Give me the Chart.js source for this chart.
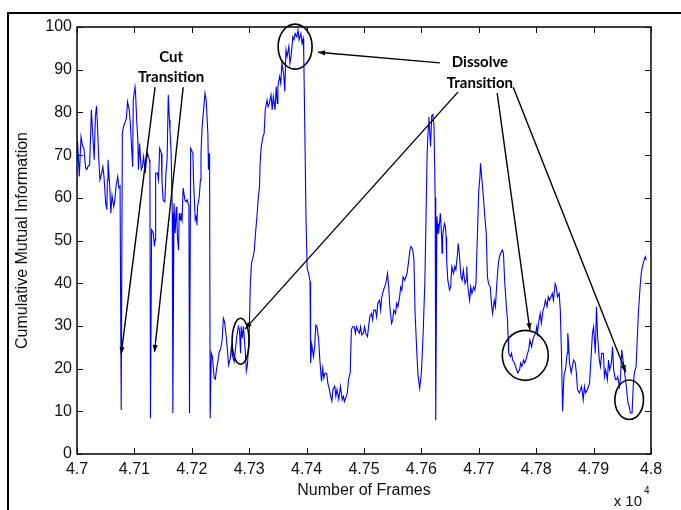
<!DOCTYPE html>
<html>
<head>
<meta charset="utf-8">
<script src="https://cdn.jsdelivr.net/npm/chart.js@4.4.1/dist/chart.umd.min.js"></script>
<style>
  html, body { margin: 0; padding: 0; background: #fff; }
  canvas { display: block; }
</style>
</head>
<body>
<canvas id="cmiChart" width="681" height="510"></canvas>
<script>
// Frame numbers (x) and cumulative mutual information (y)
const frames = [
  47000, 47001, 47004, 47007, 47010, 47012, 47015, 47017, 47019, 47022, 47024, 47025, 47027, 47030, 47032, 47034,
  47036, 47038, 47040, 47043, 47045, 47047, 47050, 47052, 47053, 47054, 47057, 47059, 47061, 47064, 47066, 47068,
  47071, 47073, 47075, 47077, 47079, 47081, 47084, 47086, 47088, 47091, 47093, 47095, 47097, 47098, 47101, 47102,
  47104, 47106, 47107, 47109, 47112, 47114, 47116, 47119, 47121, 47123, 47126, 47127, 47128, 47130, 47133, 47135,
  47136, 47137, 47140, 47142, 47144, 47147, 47148, 47150, 47153, 47155, 47157, 47159, 47161, 47162, 47164, 47166,
  47167, 47169, 47171, 47173, 47174, 47175, 47177, 47178, 47180, 47181, 47183, 47185, 47188, 47190, 47192, 47195,
  47196, 47198, 47202, 47203, 47206, 47208, 47209, 47210, 47213, 47215, 47216, 47218, 47221, 47223, 47225, 47228,
  47229, 47230, 47231, 47232, 47234, 47236, 47239, 47241, 47243, 47246, 47248, 47250, 47253, 47255, 47257, 47260,
  47262, 47264, 47267, 47269, 47271, 47274, 47276, 47278, 47281, 47283, 47285, 47286, 47288, 47290, 47293, 47295,
  47297, 47300, 47302, 47304, 47307, 47309, 47311, 47313, 47316, 47318, 47319, 47321, 47324, 47326, 47328, 47331,
  47333, 47335, 47338, 47340, 47342, 47345, 47347, 47349, 47350, 47353, 47355, 47357, 47360, 47362, 47364, 47366,
  47369, 47371, 47373, 47376, 47378, 47380, 47383, 47385, 47387, 47390, 47392, 47394, 47395, 47397, 47399, 47401,
  47404, 47406, 47407, 47409, 47412, 47414, 47416, 47418, 47421, 47423, 47426, 47428, 47430, 47432, 47435, 47437,
  47439, 47442, 47444, 47446, 47449, 47451, 47453, 47456, 47459, 47462, 47464, 47466, 47469, 47471, 47473, 47476,
  47478, 47480, 47483, 47485, 47487, 47489, 47492, 47494, 47496, 47499, 47501, 47503, 47506, 47508, 47510, 47513,
  47515, 47517, 47520, 47522, 47524, 47527, 47529, 47531, 47534, 47536, 47538, 47541, 47543, 47545, 47548, 47550,
  47552, 47555, 47557, 47559, 47562, 47564, 47566, 47568, 47571, 47573, 47575, 47578, 47580, 47582, 47585, 47587,
  47589, 47592, 47594, 47597, 47600, 47603, 47606, 47608, 47610, 47612, 47613, 47616, 47618, 47620, 47622, 47624,
  47625, 47627, 47629, 47630, 47631, 47633, 47635, 47636, 47637, 47640, 47642, 47643, 47644, 47646, 47649, 47651,
  47653, 47656, 47658, 47660, 47663, 47664, 47666, 47669, 47671, 47673, 47676, 47678, 47679, 47681, 47684, 47686,
  47688, 47691, 47693, 47695, 47698, 47700, 47702, 47703, 47706, 47708, 47710, 47713, 47715, 47717, 47720, 47722,
  47724, 47727, 47729, 47731, 47734, 47736, 47738, 47741, 47743, 47745, 47748, 47750, 47751, 47752, 47755, 47757,
  47759, 47762, 47764, 47766, 47768, 47771, 47773, 47775, 47778, 47780, 47782, 47785, 47787, 47789, 47792, 47794,
  47796, 47799, 47801, 47802, 47805, 47807, 47809, 47812, 47814, 47816, 47819, 47821, 47823, 47826, 47828, 47830,
  47833, 47835, 47837, 47840, 47842, 47844, 47846, 47848, 47849, 47851, 47854, 47855, 47856, 47858, 47861, 47863,
  47865, 47868, 47870, 47872, 47875, 47877, 47879, 47882, 47884, 47886, 47889, 47891, 47893, 47896, 47898, 47900,
  47903, 47905, 47907, 47910, 47912, 47914, 47917, 47919, 47921, 47924, 47926, 47928, 47931, 47933, 47935, 47938,
  47940, 47942, 47945, 47947, 47949, 47952, 47954, 47955, 47957, 47960, 47962, 47964, 47967, 47969, 47971, 47974,
  47976, 47978, 47981, 47983, 47985, 47988, 47990, 47992
];

const cmi = [
  68.9, 73.1, 65.0, 74.3, 72.0, 71.6, 67.0, 66.6, 67.3, 67.7, 75.9, 80.6, 75.9, 68.9, 79.0, 81.5,
  75.9, 68.9, 64.2, 65.8, 67.3, 65.0, 58.7, 57.2, 64.2, 68.9, 62.7, 56.4, 60.6, 57.9, 59.5, 62.7,
  65.0, 62.3, 62.7, 10.3, 75.1, 76.6, 77.8, 78.6, 82.5, 80.6, 77.4, 72.0, 67.3, 82.9, 86.0, 84.5,
  78.2, 73.5, 66.6, 72.7, 66.6, 67.3, 69.6, 65.8, 68.9, 70.4, 68.9, 68.1, 8.4, 52.5, 51.7, 48.6,
  50.1, 65.8, 65.8, 64.2, 71.6, 70.4, 64.2, 59.5, 59.1, 65.8, 68.9, 84.1, 78.2, 75.9, 70.4, 56.4,
  9.6, 58.7, 51.7, 57.9, 54.8, 50.9, 47.8, 56.4, 54.8, 56.4, 54.8, 62.3, 59.5, 59.1, 59.5, 57.9,
  9.6, 71.6, 70.4, 64.2, 54.8, 55.6, 53.6, 57.9, 60.2, 64.2, 70.4, 76.6, 81.3, 84.5, 82.9, 75.1,
  66.6, 70.4, 68.9, 8.4, 23.6, 22.8, 17.8, 17.5, 19.8, 22.1, 24.1, 24.4, 26.8, 31.8, 31.0, 27.5,
  24.4, 20.8, 22.4, 25.1, 22.8, 21.6, 24.4, 27.1, 29.9, 29.1, 23.6, 29.9, 27.1, 29.9, 24.4, 19.4,
  20.9, 28.3, 40.0, 44.7, 46.2, 47.8, 51.7, 54.8, 60.2, 62.7, 68.1, 72.0, 74.3, 75.1, 80.6, 82.9,
  81.3, 82.1, 84.1, 80.6, 83.7, 80.6, 86.0, 82.1, 86.0, 88.4, 86.8, 91.5, 89.1, 84.9, 94.6, 93.1,
  95.4, 91.5, 93.1, 97.7, 97.0, 98.5, 97.7, 99.3, 97.0, 98.5, 96.2, 97.3, 93.8, 75.0, 55.0, 43.5,
  42.0, 40.4, 21.3, 25.6, 22.8, 25.1, 30.2, 29.9, 26.8, 22.1, 17.0, 20.1, 17.8, 18.9, 18.9, 16.6,
  15.5, 13.5, 12.4, 15.1, 15.9, 13.5, 15.1, 12.8, 15.8, 12.7, 13.5, 12.3, 13.5, 14.3, 17.4, 19.0,
  29.0, 29.8, 29.8, 28.3, 29.8, 29.0, 28.3, 29.8, 27.9, 28.3, 29.8, 28.3, 27.5, 29.8, 32.1, 32.9,
  31.4, 33.7, 33.7, 32.1, 35.3, 36.0, 33.7, 36.8, 38.4, 39.1, 39.9, 42.3, 39.1, 34.5, 30.6, 31.4,
  33.7, 32.9, 35.3, 34.5, 36.8, 39.1, 38.4, 41.5, 40.7, 41.5, 42.3, 45.4, 47.8, 48.6, 47.8, 45.4,
  33.0, 23.8, 18.7, 15.4, 19.0, 28.0, 40.2, 54.8, 70.4, 76.7, 79.0, 72.0, 79.3, 79.5, 76.7, 60.0,
  7.9, 55.6, 51.7, 54.0, 53.2, 56.4, 51.7, 47.0, 50.9, 54.0, 53.2, 50.9, 45.4, 40.7, 38.4, 39.1,
  43.9, 42.3, 43.9, 43.1, 47.0, 49.3, 47.0, 41.5, 40.7, 43.1, 39.9, 40.7, 43.9, 39.1, 36.0, 39.1,
  37.6, 39.1, 38.4, 39.9, 53.2, 61.8, 64.9, 68.1, 63.4, 60.2, 56.4, 51.7, 41.5, 39.9, 39.1, 35.3,
  32.9, 36.0, 34.5, 39.1, 44.6, 46.2, 47.0, 47.8, 47.0, 40.7, 34.5, 31.4, 27.5, 23.6, 22.8, 23.6,
  22.0, 21.3, 20.5, 19.7, 19.0, 19.7, 21.3, 20.5, 22.0, 21.3, 22.0, 23.6, 24.4, 26.7, 25.1, 26.7,
  27.5, 28.3, 29.8, 28.3, 31.4, 32.9, 30.6, 33.7, 34.5, 36.0, 34.5, 36.8, 36.0, 36.8, 37.6, 36.0,
  39.9, 39.1, 36.8, 37.6, 33.7, 23.6, 10.0, 17.4, 19.0, 19.7, 23.6, 28.3, 26.7, 21.3, 19.0, 20.5,
  22.0, 21.3, 19.0, 15.0, 14.3, 15.0, 15.8, 12.7, 15.8, 14.3, 15.0, 15.8, 16.6, 23.6, 28.3, 29.8,
  23.6, 34.5, 27.5, 22.0, 20.5, 23.6, 23.6, 18.1, 19.7, 17.4, 22.0, 19.7, 21.3, 25.1, 19.7, 17.4,
  17.4, 18.1, 15.8, 18.1, 24.4, 21.3, 19.0, 18.1, 15.8, 11.9, 11.2, 9.6, 9.6, 15.8, 19.0, 20.5,
  26.7, 32.9, 39.1, 42.3, 43.9, 45.4, 46.2, 45.4
];

// Axis tick labels (x axis is shown in units of 10^4 frames)
const xTickLabels = ['4.7', '4.71', '4.72', '4.73', '4.74', '4.75', '4.76', '4.77', '4.78', '4.79', '4.8'];
const yTickValues = [0, 10, 20, 30, 40, 50, 60, 70, 80, 90, 100];

// Callouts, in data coordinates (frame, value)
const cutLabel = { x: 47164, y: [92.9, 88.3], text: ['Cut', 'Transition'] };
const dissolveLabel = { x: 47702, y: [91.7, 86.9], text: ['Dissolve', 'Transition'] };
const arrows = [
  [47136, 85.9, 47077, 23.4],
  [47185, 85.9, 47135, 23.9],
  [47632, 91.6, 47420, 94.1],
  [47664, 84.8, 47293, 29.3],
  [47732, 84.5, 47789, 29.0],
  [47760, 85.9, 47956, 19.2]
];
const ellipses = [
  { x: 47380, y: 95.4, rx: 17, ry: 22.5 },
  { x: 47285, y: 26.4, rx: 8.5, ry: 23 },
  { x: 47781, y: 23.1, rx: 23, ry: 25 },
  { x: 47962, y: 12.7, rx: 14.3, ry: 19.7 }
];

const points = frames.map((f, i) => ({ x: f, y: cmi[i] }));

function drawArrow(ctx, x1, y1, x2, y2) {
  ctx.beginPath();
  ctx.moveTo(x1, y1);
  ctx.lineTo(x2, y2);
  ctx.stroke();
  const ang = Math.atan2(y2 - y1, x2 - x1);
  const len = 7, half = 2.6;
  ctx.beginPath();
  ctx.moveTo(x2, y2);
  ctx.lineTo(x2 - len * Math.cos(ang) + half * Math.sin(ang), y2 - len * Math.sin(ang) - half * Math.cos(ang));
  ctx.lineTo(x2 - len * Math.cos(ang) - half * Math.sin(ang), y2 - len * Math.sin(ang) + half * Math.cos(ang));
  ctx.closePath();
  ctx.fill();
}

// MATLAB-like box, inward ticks, callouts and the x 10^4 multiplier
const figureDecor = {
  id: 'figureDecor',
  afterDraw(chart) {
    const { ctx, chartArea: a, scales: { x, y } } = chart;
    ctx.save();

    // outer frame (figure is cropped: only left and top edges show)
    ctx.strokeStyle = '#000';
    ctx.lineWidth = 2;
    ctx.beginPath();
    ctx.moveTo(8, chart.height);
    ctx.lineTo(8, 13);
    ctx.lineTo(chart.width, 13);
    ctx.stroke();

    // axes box
    ctx.lineWidth = 1.6;
    ctx.strokeStyle = '#111';
    ctx.strokeRect(a.left, a.top, a.right - a.left, a.bottom - a.top);

    // inward tick marks on all four sides
    ctx.lineWidth = 1;
    ctx.beginPath();
    x.ticks.forEach(t => {
      const px = Math.round(x.getPixelForValue(t.value)) + 0.5;
      ctx.moveTo(px, a.bottom); ctx.lineTo(px, a.bottom - 6);
      ctx.moveTo(px, a.top); ctx.lineTo(px, a.top + 6);
    });
    y.ticks.forEach(t => {
      const py = Math.round(y.getPixelForValue(t.value)) + 0.5;
      ctx.moveTo(a.left, py); ctx.lineTo(a.left + 6, py);
      ctx.moveTo(a.right, py); ctx.lineTo(a.right - 6, py);
    });
    ctx.stroke();

    // ellipses around the transitions
    ctx.lineWidth = 1.6;
    ctx.strokeStyle = '#000';
    ellipses.forEach(e => {
      ctx.beginPath();
      ctx.ellipse(x.getPixelForValue(e.x), y.getPixelForValue(e.y), e.rx, e.ry, 0, 0, Math.PI * 2);
      ctx.stroke();
    });

    // arrows
    ctx.lineWidth = 1.4;
    ctx.fillStyle = '#000';
    arrows.forEach(([x1, y1, x2, y2]) => {
      drawArrow(ctx,
        x.getPixelForValue(x1), y.getPixelForValue(y1),
        x.getPixelForValue(x2), y.getPixelForValue(y2));
    });

    // callout labels
    ctx.font = 'bold 15px Lato, "Open Sans", sans-serif';
    ctx.textAlign = 'center';
    ctx.textBaseline = 'middle';
    [cutLabel, dissolveLabel].forEach(l => {
      l.text.forEach((t, i) => {
        ctx.fillText(t, x.getPixelForValue(l.x), y.getPixelForValue(l.y[i]));
      });
    });

    // exponent below the right end of the x axis
    ctx.fillStyle = '#111';
    ctx.textAlign = 'right';
    ctx.textBaseline = 'alphabetic';
    ctx.font = '15px "Liberation Sans", Arial, sans-serif';
    ctx.fillText('x 10', a.right - 9, 506);
    ctx.textAlign = 'left';
    ctx.font = '10px "Liberation Sans", Arial, sans-serif';
    ctx.fillText('4', a.right - 7, 494);

    ctx.restore();
  }
};

const ctx = document.getElementById('cmiChart').getContext('2d');
const cmiChart = new Chart(ctx, {
  type: 'line',
  data: {
    datasets: [{
      data: points,
      borderColor: '#0000ff',
      borderWidth: 1.1,
      pointRadius: 0,
      tension: 0,
      fill: false
    }]
  },
  options: {
    responsive: false,
    animation: false,
    devicePixelRatio: 1,
    layout: { padding: { left: 0, right: 30, top: 27, bottom: 0 } },
    plugins: {
      legend: { display: false },
      tooltip: { enabled: false }
    },
    scales: {
      x: {
        type: 'linear',
        min: 47000,
        max: 48000,
        grid: { display: false, drawTicks: false },
        border: { display: false },
        ticks: {
          stepSize: 100,
          padding: 6,
          color: '#111',
          font: { family: '"Liberation Sans", Arial, sans-serif', size: 16 },
          maxRotation: 0,
          callback: (v, i) => xTickLabels[i]
        },
        title: {
          display: true,
          text: 'Number of Frames',
          color: '#111',
          font: { family: '"Liberation Sans", Arial, sans-serif', size: 16 },
          padding: { top: 0, bottom: 10 }
        },
        afterFit: scale => { scale.height = 56; }
      },
      y: {
        min: 0,
        max: 100,
        grid: { display: false, drawTicks: false },
        border: { display: false },
        afterBuildTicks: scale => { scale.ticks = yTickValues.map(v => ({ value: v })); },
        ticks: {
          padding: 5,
          color: '#111',
          font: { family: '"Liberation Sans", Arial, sans-serif', size: 16 }
        },
        title: {
          display: true,
          text: 'Cumulative Mutual Information',
          color: '#111',
          font: { family: '"Liberation Sans", Arial, sans-serif', size: 16 },
          padding: { top: 13, bottom: 0 }
        },
        afterFit: scale => { scale.width = 77; }
      }
    }
  },
  plugins: [figureDecor]
});
</script>
</body>
</html>
